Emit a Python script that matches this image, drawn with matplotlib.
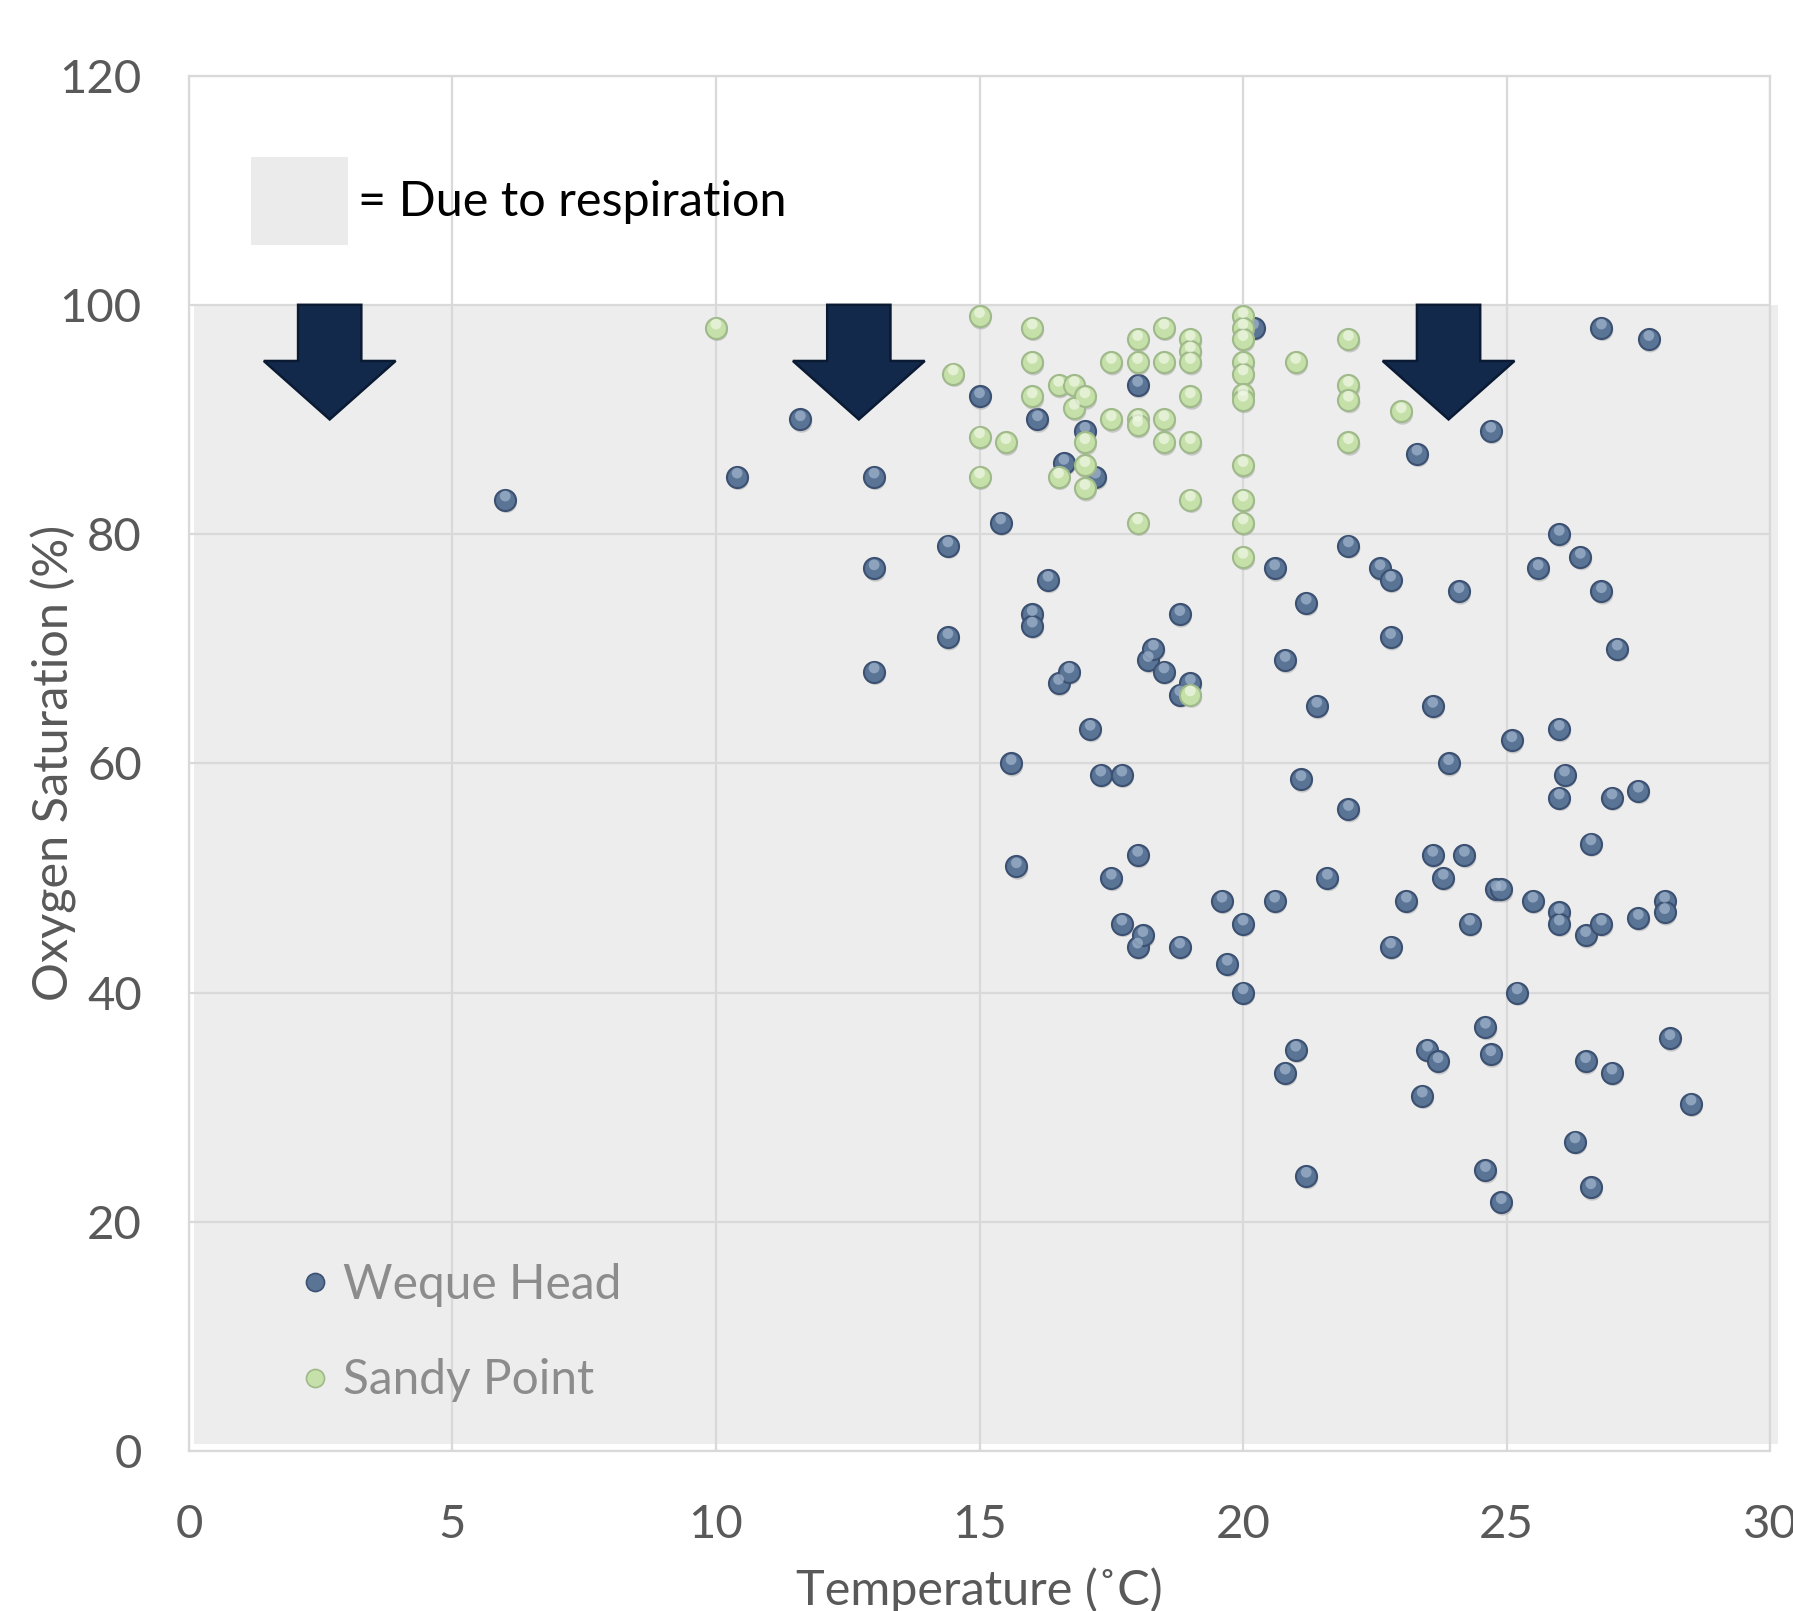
import matplotlib
matplotlib.use("Agg")
import matplotlib.pyplot as plt
from matplotlib.patches import Rectangle, FancyArrow
from matplotlib.lines import Line2D
import matplotlib.transforms as mtransforms

plt.rcParams['font.family'] = ['Lato', 'DejaVu Sans']

# ---------------- data ----------------
weque_temp = [6, 10.4, 11.6, 13, 13, 13, 14.4, 14.4, 15, 15.4, 15.6, 15.7, 16, 16, 16.1,
              16.3, 16.6, 16.5, 16.7, 17, 17.1, 17.2, 17.3, 17.5, 17.7, 17.7, 18, 18, 18,
              18.1, 18.2, 18.3, 18.5, 18.8, 18.8, 18.8, 19, 19.6, 19.7, 20, 20, 20.2, 20.6,
              20.6, 20.8, 20.8, 21, 21.1, 21.2, 21.2, 21.4, 21.6, 22, 22, 22.6, 22.8, 22.8,
              22.8, 23.1, 23.3, 23.4, 23.5, 23.6, 23.6, 23.7, 23.8, 23.9, 24.1, 24.2, 24.3,
              24.6, 24.6, 24.7, 24.7, 24.8, 24.9, 24.9, 25.1, 25.2, 25.5, 25.6, 26, 26, 26,
              26, 26, 26.1, 26.3, 26.4, 26.5, 26.5, 26.6, 26.6, 26.8, 26.8, 26.8, 27, 27,
              27.1, 27.5, 27.5, 27.7, 28, 28, 28.1, 28.5]
weque_o2 = [83, 85, 90, 85, 77, 68, 79, 71, 92, 81, 60, 51, 73, 72, 90,
            76, 86.2, 67, 68, 89, 63, 85, 59, 50, 59, 46, 93, 52, 44,
            45, 69, 70, 68, 73, 44, 66, 67, 48, 42.5, 46, 40, 98, 77,
            48, 69, 33, 35, 58.6, 74, 24, 65, 50, 79, 56, 77, 76, 71,
            44, 48, 87, 31, 35, 65, 52, 34, 50, 60, 75, 52, 46,
            37, 24.5, 89, 34.6, 49, 49, 21.7, 62, 40, 48, 77, 80, 63, 57,
            47, 46, 59, 27, 78, 45, 34, 53, 23, 98, 75, 46, 57, 33,
            70, 57.6, 46.5, 97, 48, 47, 36, 30.3]

sandy_temp = [10, 14.5, 15, 15, 15, 15.5, 16, 16, 16, 16.5, 16.5, 16.8, 16.8, 17, 17, 17,
              17, 17.5, 17.5, 18, 18, 18, 18, 18, 18.5, 18.5, 18.5, 18.5, 19, 19, 19, 19,
              19, 19, 19, 20, 20, 20, 20, 20, 20, 20, 20, 20, 20, 20, 21, 22, 22, 22, 22, 23]
sandy_o2 = [98, 94, 99, 88.5, 85, 88, 98, 95, 92, 93, 85, 93, 91, 92, 88, 86,
            84, 95, 90, 97, 95, 90, 89.5, 81, 98, 95, 90, 88, 97, 96, 95, 92,
            88, 83, 66, 99, 98, 97, 95, 94, 92.2, 91.7, 86, 83, 81, 78, 95, 97, 93, 91.7, 88, 90.7]

arrow_centers = [2.67, 12.71, 23.9]
x_ticks = [0, 5, 10, 15, 20, 25, 30]
y_ticks = [0, 20, 40, 60, 80, 100, 120]

# ---------------- styles ----------------
BLUE = '#5a7496'
BLUE_EDGE = '#3c5171'
BLUE_HI = '#a3b6ce'
GREEN = '#c6e0aa'
GREEN_EDGE = '#9fb98a'
GREEN_HI = '#f0f8e6'
TICK_C = '#595959'
GRID_C = '#d9d9d9'

fig = plt.figure(figsize=(17.93, 16.11), dpi=100)
ax = fig.add_axes([0.1054, 0.0993, 0.8818, 0.8538])
ax.set_xlim(0, 30)
ax.set_ylim(0, 120)
ax.set_xticks(x_ticks)
ax.set_yticks(y_ticks)
ax.grid(True, color=GRID_C, linewidth=1.6)
ax.set_axisbelow(True)
for s in ax.spines.values():
    s.set_color(GRID_C)
    s.set_linewidth(1.6)
ax.tick_params(length=0, labelsize=34, labelcolor=TICK_C)
ax.tick_params(axis='x', pad=38)
ax.tick_params(axis='y', pad=34)
ax.set_xlabel('Temperature (˚C)', fontsize=35, color=TICK_C, va='center')
ax.set_ylabel('Oxygen Saturation (%)', fontsize=35, color=TICK_C, va='center')
ax.xaxis.set_label_coords(0.5, -0.101)
ax.yaxis.set_label_coords(-0.0855, 0.5)

# shaded "respiration" region
ax.add_patch(Rectangle((0.1, 0.6), 30.05, 99.4, facecolor='#ededed', edgecolor='none',
                       zorder=0.2, clip_on=False))
# legend square for shading
ax.add_patch(Rectangle((1.17, 105.2), 1.85, 7.7, facecolor='#ebebeb', edgecolor='none', zorder=0.2))
ax.text(3.2, 109.0, '= Due to respiration', fontsize=35, color='black', va='center', ha='left')

# arrows
for xc in arrow_centers:
    ax.add_patch(FancyArrow(xc, 100, 0, -10.0, width=1.2, head_width=2.5, head_length=5.1,
                            length_includes_head=True, facecolor='#13294b', edgecolor='#0b1a33',
                            linewidth=1.8, joinstyle='miter', zorder=2))

# sphere-like markers
def spheres(x, y, face, edge, hi, size, z):
    sh = mtransforms.offset_copy(ax.transData, fig=fig, x=1.0, y=-2.0, units='points')
    ax.scatter(x, y, s=size, c='#9a9a9a', alpha=0.45, edgecolors='none', transform=sh, zorder=z)
    ax.scatter(x, y, s=size, c=face, edgecolors=edge, linewidths=1.5, zorder=z + 0.1)
    hl = mtransforms.offset_copy(ax.transData, fig=fig, x=0, y=2.6, units='points')
    ax.scatter(x, y, s=size * 0.26, c=hi, alpha=0.7, edgecolors='none', transform=hl, zorder=z + 0.2)

spheres(weque_temp, weque_o2, BLUE, BLUE_EDGE, BLUE_HI, 230, 3)
spheres(sandy_temp, sandy_o2, GREEN, GREEN_EDGE, GREEN_HI, 230, 4)

handles = [Line2D([], [], linestyle='none', marker='o', markersize=13, markerfacecolor=BLUE,
                  markeredgecolor=BLUE_EDGE, markeredgewidth=1.2),
           Line2D([], [], linestyle='none', marker='o', markersize=13, markerfacecolor=GREEN,
                  markeredgecolor=GREEN_EDGE, markeredgewidth=1.2)]
leg = ax.legend(handles, ['Weque Head', 'Sandy Point'], loc='lower left',
                bbox_to_anchor=(0.04, 0.004), frameon=False, fontsize=34.5,
                labelcolor='#8c8c8c', handletextpad=0.2, labelspacing=1.07, handlelength=0.8)

fig.savefig('out.png', dpi=100)
